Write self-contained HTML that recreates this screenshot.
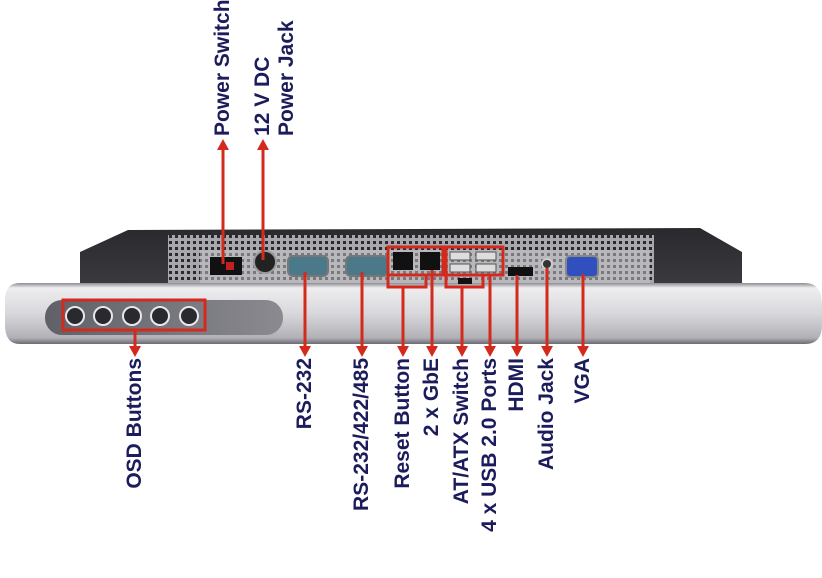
<!DOCTYPE html>
<html><head><meta charset="utf-8"><style>
html,body{margin:0;padding:0;background:#fff;}
body{width:822px;height:531px;position:relative;overflow:hidden;font-family:"Liberation Sans",Arial,sans-serif;}
.t{position:absolute;transform:rotate(-90deg);transform-origin:0 0;font-weight:bold;font-size:21px;line-height:22px;color:#1c1c5c;white-space:nowrap;}
.b{width:220px;text-align:right;top:578px;}
</style></head><body>
<svg width="822" height="531" style="position:absolute;left:0;top:0">
<defs>
<pattern id="g" width="6" height="6" patternUnits="userSpaceOnUse"><rect width="6" height="6" fill="#a8a8ac"/><rect x="1" y="1" width="3" height="3" fill="#2a2a2e"/></pattern>
<linearGradient id="bar" x1="0" y1="0" x2="0" y2="1"><stop offset="0" stop-color="#8c8c92"/><stop offset="0.08" stop-color="#eeeef0"/><stop offset="0.5" stop-color="#d8d8dc"/><stop offset="0.9" stop-color="#b0b0b6"/><stop offset="1" stop-color="#6a6a70"/></linearGradient>
<linearGradient id="rec" x1="0" y1="0" x2="1" y2="0"><stop offset="0" stop-color="#606068"/><stop offset="1" stop-color="#8a8a90"/></linearGradient>
<linearGradient id="body" x1="0" y1="0" x2="0" y2="1"><stop offset="0" stop-color="#2a2a2e"/><stop offset="1" stop-color="#3c3c40"/></linearGradient>
</defs>
<path d="M80 290 L80 252 L128 230 L700 228 L742 252 L742 290 Z" fill="url(#body)"/>
<rect x="168" y="235" width="486" height="50" fill="url(#g)"/>
<rect x="200" y="250" width="450" height="33" fill="#c8c8cc" opacity="0.5"/>
<path d="M20 283 L805 283 Q822 283 822 305 L822 325 Q822 344 805 344 L20 344 Q5 344 5 325 L5 300 Q5 283 20 283 Z" fill="url(#bar)"/>
<rect x="45" y="300" width="238" height="35" rx="17" fill="url(#rec)"/>
<g fill="#2a2a2e" stroke="#e8e8ec" stroke-width="2">
<circle cx="75" cy="316" r="9"/><circle cx="103" cy="316" r="9"/><circle cx="132" cy="316" r="9"/><circle cx="160" cy="316" r="9"/><circle cx="189" cy="316" r="9"/></g>
<rect x="210" y="257" width="32" height="18" fill="#111"/><rect x="226" y="262" width="8" height="8" fill="#c02020"/>
<circle cx="265" cy="262" r="11" fill="#222" stroke="#999" stroke-width="2"/>
<rect x="288" y="256" width="40" height="20" rx="5" fill="#4a7a8a" stroke="#777" stroke-width="2"/>
<rect x="346" y="256" width="42" height="20" rx="5" fill="#4a7a8a" stroke="#777" stroke-width="2"/>
<rect x="393" y="252" width="20" height="18" fill="#111"/><rect x="420" y="252" width="20" height="18" fill="#111"/>
<g fill="#ddd" stroke="#555"><rect x="450" y="252" width="20" height="8"/><rect x="476" y="252" width="20" height="8"/><rect x="450" y="264" width="20" height="8"/><rect x="476" y="264" width="20" height="8"/></g>
<rect x="458" y="278" width="14" height="6" fill="#111"/>
<rect x="508" y="267" width="25" height="9" fill="#111"/>
<circle cx="547" cy="264" r="5" fill="#333" stroke="#ccc" stroke-width="2"/>
<rect x="566" y="256" width="32" height="21" rx="4" fill="#3050c0" stroke="#888" stroke-width="2"/>
<g fill="none" stroke="#d42a1e" stroke-width="3">
<rect x="63" y="300" width="142" height="30"/>
<rect x="388" y="247" width="55" height="28"/><rect x="388" y="275" width="38" height="12"/>
<rect x="446" y="247" width="57" height="28"/><rect x="446" y="275" width="37" height="12"/>
<line x1="223" y1="150" x2="223" y2="264"/><line x1="263" y1="150" x2="263" y2="260"/>
<line x1="135" y1="330" x2="135" y2="348"/><line x1="305" y1="272" x2="305" y2="348"/>
<line x1="362" y1="272" x2="362" y2="348"/><line x1="403" y1="287" x2="403" y2="348"/>
<line x1="432" y1="270" x2="432" y2="348"/><line x1="462" y1="287" x2="462" y2="348"/>
<line x1="490" y1="275" x2="490" y2="348"/><line x1="517" y1="275" x2="517" y2="348"/>
<line x1="547" y1="268" x2="547" y2="348"/><line x1="583" y1="274" x2="583" y2="348"/>
</g>
<g fill="#d42a1e">
<path d="M217 150 L223 139 L229 150Z"/><path d="M257 150 L263 139 L269 150Z"/>
<path d="M129 346 L135 357 L141 346Z"/><path d="M299 346 L305 357 L311 346Z"/>
<path d="M356 346 L362 357 L368 346Z"/><path d="M397 346 L403 357 L409 346Z"/>
<path d="M426 346 L432 357 L438 346Z"/><path d="M456 346 L462 357 L468 346Z"/>
<path d="M484 346 L490 357 L496 346Z"/><path d="M511 346 L517 357 L523 346Z"/>
<path d="M541 346 L547 357 L553 346Z"/><path d="M577 346 L583 357 L589 346Z"/>
</g>
</svg>
<div class="t" style="left:212px;top:136px">Power Switch</div>
<div class="t" style="left:252px;top:136px">12 V DC</div>
<div class="t" style="left:276px;top:136px">Power Jack</div>
<div class="t b" style="left:124px">OSD Buttons</div>
<div class="t b" style="left:294px">RS-232</div>
<div class="t b" style="left:351px">RS-232/422/485</div>
<div class="t b" style="left:392px">Reset Button</div>
<div class="t b" style="left:421px">2 x GbE</div>
<div class="t b" style="left:451px">AT/ATX Switch</div>
<div class="t b" style="left:479px">4 x USB 2.0 Ports</div>
<div class="t b" style="left:506px">HDMI</div>
<div class="t b" style="left:536px">Audio Jack</div>
<div class="t b" style="left:572px">VGA</div>
</body></html>
